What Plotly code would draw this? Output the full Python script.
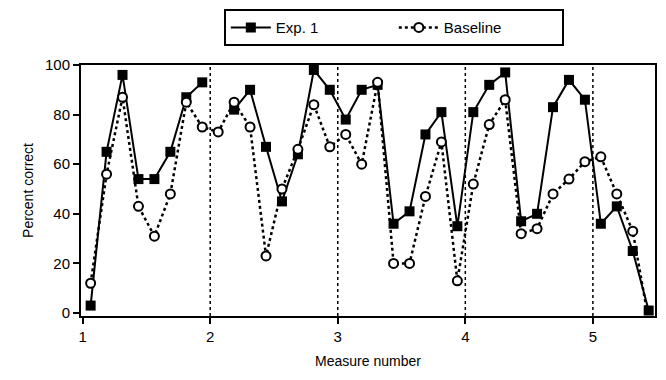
import plotly.graph_objects as go

measure_pos = [1.0625, 1.1875, 1.3125, 1.4375, 1.5625, 1.6875, 1.8125, 1.9375,
               2.0625, 2.1875, 2.3125, 2.4375, 2.5625, 2.6875, 2.8125, 2.9375,
               3.0625, 3.1875, 3.3125, 3.4375, 3.5625, 3.6875, 3.8125, 3.9375,
               4.0625, 4.1875, 4.3125, 4.4375, 4.5625, 4.6875, 4.8125, 4.9375,
               5.0625, 5.1875, 5.3125, 5.4375]
exp1 = [3, 65, 96, 54, 54, 65, 87, 93,
        None, 82, 90, 67, 45, 64, 98, 90,
        78, 90, 92, 36, 41, 72, 81, 35,
        81, 92, 97, 37, 40, 83, 94, 86,
        36, 43, 25, 1]
baseline = [12, 56, 87, 43, 31, 48, 85, 75,
            73, 85, 75, 23, 50, 66, 84, 67,
            72, 60, 93, 20, 20, 47, 69, 13,
            52, 76, 86, 32, 34, 48, 54, 61,
            63, 48, 33, -3]
x_ticks = [1, 2, 3, 4, 5]
y_ticks = [0, 20, 40, 60, 80, 100]
measure_lines = [2, 3, 4, 5]

FONT = "Liberation Sans, Arial, sans-serif"

fig = go.Figure()
fig.add_trace(go.Scatter(
    x=measure_pos, y=exp1, name="Exp. 1", mode="lines+markers",
    line=dict(color="black", width=2), connectgaps=False, cliponaxis=False,
    marker=dict(symbol="square", size=10, color="black"),
))
fig.add_trace(go.Scatter(
    x=measure_pos, y=baseline, name="Baseline", mode="lines+markers",
    line=dict(color="black", width=2.5, dash="dot"), cliponaxis=False,
    marker=dict(symbol="circle", size=9, color="white",
                line=dict(color="black", width=2)),
))

for xv in measure_lines:
    fig.add_shape(type="line", x0=xv, x1=xv, y0=0, y1=1, xref="x", yref="paper",
                  line=dict(color="black", width=1.5, dash="dot"), layer="below")

fig.update_layout(
    width=666, height=380,
    margin=dict(l=81, r=9, t=63, b=64),
    paper_bgcolor="white", plot_bgcolor="white",
    font=dict(family=FONT, size=14, color="black"),
    showlegend=True,
    legend=dict(orientation="h", x=0.545, xanchor="center", y=1.075, yanchor="bottom",
                bordercolor="black", borderwidth=2, bgcolor="white",
                font=dict(size=15), itemwidth=40, tracegroupgap=0,
                entrywidth=113, entrywidthmode="pixels"),
    xaxis=dict(range=[0.987, 5.487], tickvals=x_ticks, ticktext=[str(v) for v in x_ticks],
               showgrid=False, zeroline=False, showline=True, linecolor="black",
               linewidth=2, mirror=True, ticks="outside", ticklen=6, tickwidth=2,
               tickcolor="black", tickfont=dict(size=15),
               title=dict(text="Measure number", font=dict(size=14), standoff=12)),
    yaxis=dict(range=[-1.2, 100], tickvals=y_ticks, ticktext=[str(v) for v in y_ticks],
               showgrid=False, zeroline=False, showline=True, linecolor="black",
               linewidth=2, mirror=True, ticks="outside", ticklen=6, tickwidth=2,
               tickcolor="black", tickfont=dict(size=15),
               title=dict(text="Percent correct", font=dict(size=14), standoff=8)),
)

fig.write_html("out.html")
